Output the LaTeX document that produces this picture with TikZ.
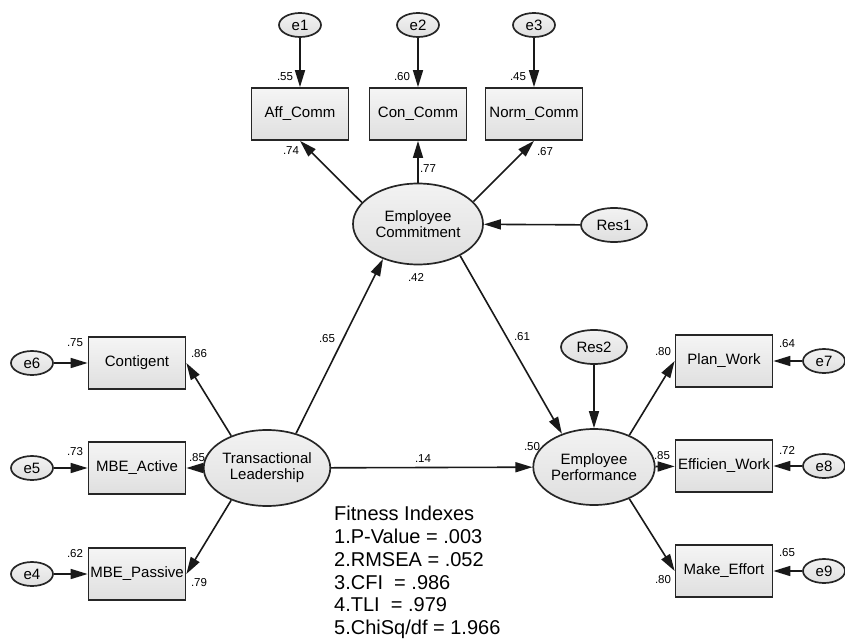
\documentclass[tikz,border=0pt]{standalone}
\usepackage{fontspec}
\setmainfont{Liberation Sans}
\usetikzlibrary{shapes.geometric, arrows.meta, positioning}

\begin{document}
\begin{tikzpicture}[x=1pt, y=-1pt,
    obs/.style={rectangle, draw=black!85, line width=1.7pt, top color=gray!8, bottom color=gray!25,
      minimum width=97pt, minimum height=52pt, inner sep=1pt, font=\fontsize{15}{16}\selectfont},
    lat/.style={ellipse, draw=black!85, line width=1.7pt, top color=gray!10, bottom color=gray!25,
      inner sep=0pt, align=center, font=\fontsize{15}{16}\selectfont},
    err/.style={lat, minimum width=42pt, minimum height=24pt},
    res/.style={lat, minimum width=66pt, minimum height=34pt},
    num/.style={inner sep=0pt, font=\fontsize{11.5}{12}\selectfont},
    reg/.style={draw=black!90, line width=1.6pt, -{Triangle[length=17pt,width=10pt]}}]
  \useasboundingbox (0,0) rectangle (845,644);

  % measurement model of commitment
  \node[err] (e1) at (300,25) {e1};
  \node[err] (e2) at (418,25) {e2};
  \node[err] (e3) at (534,25) {e3};
  \node[obs] (aff) at (300,114) {Aff\_Comm};
  \node[obs] (con) at (418,114) {Con\_Comm};
  \node[obs] (norm) at (534,114) {Norm\_Comm};
  \node[lat, minimum width=130pt, minimum height=81pt] (ec) at (418,224) {Employee\\Commitment};
  \node[res] (res1) at (614,225) {Res1};

  % transactional leadership
  \node[lat, minimum width=106pt, minimum height=76pt] (tl) at (267,468) {Transactional\\Leadership};
  \node[obs] (cont) at (137,363) {Contigent};
  \node[obs] (mbea) at (137,468) {MBE\_Active};
  \node[obs] (mbep) at (137,574) {MBE\_Passive};
  \node[err] (e6) at (32,363) {e6};
  \node[err] (e5) at (32,468) {e5};
  \node[err] (e4) at (32,574) {e4};

  % employee performance
  \node[lat, minimum width=105pt, minimum height=76pt] (ep) at (594,467) {Employee\\Performance};
  \node[res] (res2) at (594,347) {Res2};
  \node[obs] (plan) at (724,361) {Plan\_Work};
  \node[obs] (eff) at (724,466) {Efficien\_Work};
  \node[obs] (make) at (724,571) {Make\_Effort};
  \node[err] (e7) at (824,361) {e7};
  \node[err] (e8) at (824,466) {e8};
  \node[err] (e9) at (824,571) {e9};

  % paths
  \draw[reg] (e1) -- (aff);
  \draw[reg] (e2) -- (con);
  \draw[reg] (e3) -- (norm);
  \draw[reg] (ec.159) -- (aff.south);
  \draw[reg] (ec) -- (con);
  \draw[reg] (ec.22) -- (norm.south);
  \draw[reg] (res1) -- (ec);
  \draw[reg] (tl.50) -- (ec.225);
  \draw[reg] (ec.-37) -- (ep.134);
  \draw[reg] (tl) -- (ep);
  \draw[reg] (res2) -- (ep);
  \draw[reg] (tl.138) -- (cont.east);
  \draw[reg] (tl) -- (mbea);
  \draw[reg] (tl.-138) -- (mbep.east);
  \draw[reg] (e6) -- (cont);
  \draw[reg] (e5) -- (mbea);
  \draw[reg] (e4) -- (mbep);
  \draw[reg] (ep.42) -- (plan.west);
  \draw[reg] (ep) -- (eff);
  \draw[reg] (ep.-42) -- (make.west);
  \draw[reg] (e7) -- (plan);
  \draw[reg] (e8) -- (eff);
  \draw[reg] (e9) -- (make);

  % estimates
  \node[num] (r1) at (285,77) {.55};
  \node[num] (r2) at (402,77) {.60};
  \node[num] (r3) at (518,77) {.45};
  \node[num] (l1) at (291,151) {.74};
  \node[num] (l2) at (428,169) {.77};
  \node[num] (l3) at (545,152) {.67};
  \node[num] (r4) at (416,277) {.42};
  \node[num] (b1) at (327,339) {.65};
  \node[num] (b2) at (522,337) {.61};
  \node[num] (b3) at (423,459) {.14};
  \node[num] (r5) at (532,447) {.50};
  \node[num] (r6) at (75,343) {.75};
  \node[num] (l4) at (199,354) {.86};
  \node[num] (r7) at (75,452) {.73};
  \node[num] (l5) at (197,458) {.85};
  \node[num] (r8) at (75,554) {.62};
  \node[num] (l6) at (199,583) {.79};
  \node[num] (l7) at (663,352) {.80};
  \node[num] (r9) at (787,344) {.64};
  \node[num] (l8) at (662,456) {.85};
  \node[num] (r10) at (787,450) {.72};
  \node[num] (r11) at (787,553) {.65};
  \node[num] (l9) at (663,580) {.80};

  % fit
  \node[anchor=north west, inner sep=0pt, align=left, font=\fontsize{20}{22.8}\selectfont] (fit) at (334,506)
    {Fitness Indexes\\1.P-Value = .003\\2.RMSEA = .052\\3.CFI~ = .986\\4.TLI~ = .979\\5.ChiSq/df = 1.966};
\end{tikzpicture}
\end{document}
